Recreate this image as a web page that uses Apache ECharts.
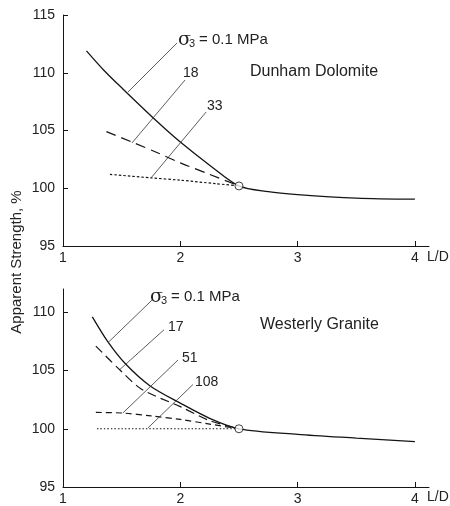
<!DOCTYPE html>
<html>
<head>
<meta charset="utf-8">
<script src="https://cdn.jsdelivr.net/npm/echarts@6/dist/echarts.min.js"></script>
<style>html,body{margin:0;padding:0;background:#fff}#c{width:450px;height:506px}</style>
</head>
<body>
<div id="c"></div>
<script>
// ---- Data ----
const xTickLabels = [1, 2, 3, 4];
const dunhamYTicks = [95, 100, 105, 110, 115];
const westerlyYTicks = [95, 100, 105, 110];

// Dunham Dolomite
const dunham01_LD = [1.2, 1.35, 1.5, 1.8, 2.0, 2.25, 2.5, 2.75, 3.0, 3.5, 4.0];
const dunham01_S  = [111.9, 110.2, 108.7, 105.8, 104.0, 102.0, 100.2, 99.7, 99.45, 99.15, 99.05];
const dunham18_LD = [1.37, 1.6, 1.8, 2.0, 2.25, 2.5];
const dunham18_S  = [104.9, 103.95, 103.1, 102.2, 101.2, 100.2];
const dunham33_LD = [1.4, 1.75, 2.0, 2.3, 2.5];
const dunham33_S  = [101.2, 100.9, 100.7, 100.4, 100.2];
const dunhamRef   = [2.5, 100.2];

// Westerly Granite
const westerly01_LD  = [1.25, 1.38, 1.53, 1.74, 2.0, 2.25, 2.5, 3.0, 3.5, 4.0];
const westerly01_S   = [109.6, 107.5, 105.6, 103.7, 102.2, 100.9, 100.0, 99.52, 99.2, 98.9];
const westerly17_LD  = [1.28, 1.49, 1.67, 2.0, 2.25, 2.5];
const westerly17_S   = [107.1, 105.0, 103.4, 101.9, 100.7, 100.0];
const westerly51_LD  = [1.28, 1.51, 1.75, 2.0, 2.25, 2.5];
const westerly51_S   = [101.4, 101.35, 101.1, 100.8, 100.4, 100.0];
const westerly108_LD = [1.29, 2.5];
const westerly108_S  = [100.0, 100.0];
const westerlyRef    = [2.5, 100.0];

// Leader lines (curve point -> label), data coords
const dunhamLeaders = [
  [[1.554, 108.33], [1.972, 112.58]],
  [[1.588, 103.92], [2.04, 109.37]],
  [[1.75, 100.89], [2.22, 106.6]]
];
const westerlyLeaders = [
  [[1.384, 107.4], [1.759, 111.05]],
  [[1.486, 105.1], [1.861, 108.5]],
  [[1.51, 101.35], [1.98, 105.9]],
  [[1.725, 100.08], [2.108, 103.8]]
];

// ---- Chart ----
const zip = (xs, ys) => xs.map((x, i) => [x, ys[i]]);
const INK = '#151515';
const FONT = '"Liberation Sans", Arial, sans-serif';

function curve(name, xs, ys, idx, type, width) {
  return {
    name, type: 'line', xAxisIndex: idx, yAxisIndex: idx,
    data: zip(xs, ys), smooth: 0.3,
    symbol: 'none', silent: true, animation: false,
    lineStyle: { color: INK, width: width || 1.2, type: type }
  };
}
function leaders(idx, list) {
  return {
    type: 'line', xAxisIndex: idx, yAxisIndex: idx, data: [], silent: true,
    animation: false,
    markLine: {
      silent: true, animation: false,
      symbol: ['arrow', 'none'], symbolSize: [5, 0],
      label: { show: false },
      lineStyle: { color: '#333', width: 0.8, type: 'solid' },
      emphasis: { disabled: true },
      data: list.map(p => [{ coord: p[0] }, { coord: p[1] }])
    }
  };
}
function refPoint(idx, pt) {
  return {
    type: 'scatter', xAxisIndex: idx, yAxisIndex: idx, data: [pt],
    symbol: 'circle', symbolSize: 8, z: 10, silent: true, animation: false,
    itemStyle: { color: '#fff', borderColor: INK, borderWidth: 1 }
  };
}
function xAxis(idx) {
  return {
    type: 'value', gridIndex: idx, min: 1, max: 4.12, interval: 1,
    axisLine: { show: true, lineStyle: { color: INK, width: 1 } },
    axisTick: { show: true, inside: true, length: 5, customValues: [2, 3, 4], lineStyle: { color: INK } },
    axisLabel: { customValues: xTickLabels, margin: 5, fontSize: 14, color: '#222', fontFamily: FONT },
    splitLine: { show: false }
  };
}
function yAxis(idx, max, labels) {
  return {
    type: 'value', gridIndex: idx, min: 95, max: max, interval: 5,
    axisLine: { show: true, onZero: false, lineStyle: { color: INK, width: 1 } },
    axisTick: { show: true, inside: true, length: 5, customValues: labels.filter(v => v > 95), lineStyle: { color: INK } },
    axisLabel: { customValues: labels, margin: 8, fontSize: 14, color: '#222', fontFamily: FONT },
    splitLine: { show: false }
  };
}

function txt(x, y, s, size, align) {
  return { type: 'text', x, y, silent: true,
    style: { text: s, fill: '#222', font: size + 'px ' + FONT, align: align || 'left', verticalAlign: 'middle' } };
}
function sigma(x, y) {
  return [
    { type: 'text', x: x, y: y, silent: true, style: { text: 'σ', fill: '#222', font: '19px "DejaVu Serif", serif', verticalAlign: 'middle' } },
    { type: 'text', x: x + 11, y: y + 4, silent: true, style: { text: '3', fill: '#222', font: '11px ' + FONT, verticalAlign: 'middle' } },
    { type: 'text', x: x + 21, y: y, silent: true, style: { text: '= 0.1 MPa', fill: '#222', font: '15px ' + FONT, verticalAlign: 'middle' } }
  ];
}

const chart = echarts.init(document.getElementById('c'), null, { renderer: 'canvas' });
chart.setOption({
  animation: false,
  backgroundColor: '#fff',
  grid: [
    { left: 63, top: 15, width: 366, height: 231 },
    { left: 63, top: 289, width: 366, height: 198 }
  ],
  xAxis: [xAxis(0), xAxis(1)],
  yAxis: [yAxis(0, 115, dunhamYTicks), yAxis(1, 112, westerlyYTicks)],
  series: [
    curve('0.1', dunham01_LD, dunham01_S, 0, 'solid', 1.3),
    curve('18', dunham18_LD, dunham18_S, 0, [10, 6], 1.2),
    curve('33', dunham33_LD, dunham33_S, 0, [2.5, 2], 1.2),
    leaders(0, dunhamLeaders),
    refPoint(0, dunhamRef),
    curve('0.1', westerly01_LD, westerly01_S, 1, 'solid', 1.3),
    curve('17', westerly17_LD, westerly17_S, 1, [9, 5], 1.2),
    curve('51', westerly51_LD, westerly51_S, 1, [6, 4], 1.2),
    curve('108', westerly108_LD, westerly108_S, 1, [1.5, 2], 1.2),
    leaders(1, westerlyLeaders),
    refPoint(1, westerlyRef)
  ],
  graphic: [
    ...sigma(178, 40),
    txt(183, 73, '18', 14),
    txt(207, 106, '33', 14),
    txt(250, 72, 'Dunham Dolomite', 16),
    ...sigma(150, 297),
    txt(168, 327, '17', 14),
    txt(182, 358, '51', 14),
    txt(195, 382, '108', 14),
    txt(260, 325, 'Westerly Granite', 16),
    txt(427, 257, 'L/D', 14),
    txt(427, 497, 'L/D', 14),
    { type: 'text', x: 17, y: 262, rotation: Math.PI / 2, silent: true,
      style: { text: 'Apparent Strength, %', fill: '#222', font: '15px ' + FONT, align: 'center', verticalAlign: 'middle' } }
  ]
});
</script>
</body>
</html>
